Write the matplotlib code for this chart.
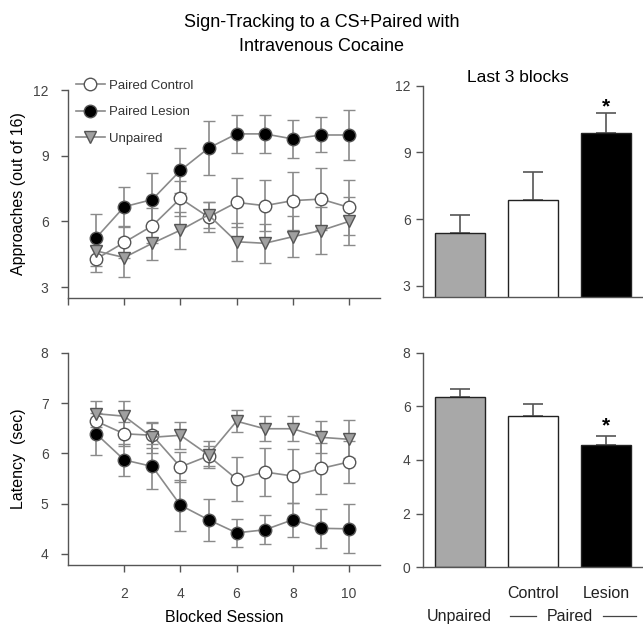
import matplotlib.pyplot as plt
import numpy as np

plt.rcParams['font.family'] = ['Liberation Sans', 'DejaVu Sans']

sessions = np.arange(1, 11)

# approaches (out of 16)
appr_lesion = [5.25, 6.67, 7.0, 8.33, 9.35, 10.0, 10.0, 9.77, 9.95, 9.95]
appr_lesion_err = [1.1, 0.88, 1.22, 1.03, 1.23, 0.88, 0.88, 0.88, 0.8, 1.15]
appr_control = [4.28, 5.04, 5.8, 7.05, 6.2, 6.87, 6.72, 6.95, 7.02, 6.64]
appr_control_err = [0.6, 0.72, 0.8, 0.8, 0.7, 1.12, 1.17, 1.32, 1.4, 1.25]
appr_unpaired = [4.65, 4.35, 5.0, 5.6, 6.3, 5.07, 5.0, 5.3, 5.58, 6.0]
appr_unpaired_err = [0.7, 0.9, 0.77, 0.84, 0.6, 0.88, 0.9, 0.94, 1.08, 1.1]

# latency (sec)
lat_lesion = [6.39, 5.87, 5.74, 4.97, 4.68, 4.42, 4.48, 4.68, 4.51, 4.50]
lat_lesion_err = [0.42, 0.31, 0.44, 0.51, 0.42, 0.28, 0.29, 0.34, 0.39, 0.49]
lat_control = [6.64, 6.39, 6.36, 5.73, 5.95, 5.49, 5.63, 5.55, 5.70, 5.83]
lat_control_err = [0.25, 0.24, 0.25, 0.3, 0.2, 0.43, 0.47, 0.53, 0.5, 0.42]
lat_unpaired = [6.79, 6.74, 6.32, 6.36, 5.97, 6.64, 6.49, 6.49, 6.32, 6.28]
lat_unpaired_err = [0.26, 0.31, 0.31, 0.27, 0.27, 0.22, 0.25, 0.25, 0.32, 0.38]

# last 3 blocks: unpaired, paired control, paired lesion
groups = ['Unpaired', 'Control', 'Lesion']
bar_appr = [5.35, 6.85, 9.88]
bar_appr_err = [0.85, 1.25, 0.9]
bar_lat = [6.37, 5.65, 4.57]
bar_lat_err = [0.3, 0.45, 0.33]
bar_colors = ['#a8a8a8', 'white', 'black']

line_col = '#8a8a8a'
axis_col = '#555555'
tick_col = '#444444'

fig = plt.figure(figsize=(6.43, 6.26), dpi=100)
ax1 = fig.add_axes([0.1058, 0.524, 0.485, 0.332])
ax2 = fig.add_axes([0.1058, 0.0974, 0.485, 0.339])
ax3 = fig.add_axes([0.658, 0.526, 0.342, 0.337])
ax4 = fig.add_axes([0.658, 0.0942, 0.342, 0.342])


def style(ax, ypad):
    for s in ['top', 'right']:
        ax.spines[s].set_visible(False)
    for s in ['left', 'bottom']:
        ax.spines[s].set_color(axis_col)
        ax.spines[s].set_linewidth(1.0)
    ax.tick_params(direction='out', length=5, width=1.0, color=axis_col,
                   labelcolor=tick_col, labelsize=10)
    ax.tick_params(axis='y', pad=ypad)


def lines(ax, data):
    handles = []
    for y, e, mfc, mk, lab in data:
        c = ax.errorbar(sessions, y, yerr=e, color=line_col, ecolor=line_col,
                        elinewidth=1.2, capsize=4, capthick=1.2, lw=1.2,
                        marker=mk, ms=9, mfc=mfc, mec='#555555', mew=1.0,
                        label=lab, zorder=3)
        handles.append(c[0])
    return handles


h = lines(ax1, [
    (appr_control, appr_control_err, 'white', 'o', 'Paired Control'),
    (appr_lesion, appr_lesion_err, 'black', 'o', 'Paired Lesion'),
    (appr_unpaired, appr_unpaired_err, '#a0a0a0', 'v', 'Unpaired'),
])
style(ax1, 9)
ax1.set_xlim(0, 11.1)
ax1.set_ylim(2.5, 12)
ax1.set_yticks([3, 6, 9, 12])
ax1.set_xticks([0, 2, 4, 6, 8, 10])
ax1.set_xticklabels([])
ax1.set_ylabel('Approaches (out of 16)', fontsize=11.5)
ax1.yaxis.set_label_coords(-0.135, 0.5)
leg = ax1.legend(handles=h, labels=['Paired Control', 'Paired Lesion', 'Unpaired'],
                 loc='upper left', bbox_to_anchor=(0.0, 1.09), frameon=False,
                 fontsize=9.5, handlelength=2.2, handletextpad=0.3,
                 labelspacing=1.1, borderaxespad=0.2)
for t in leg.get_texts():
    t.set_color('#333333')

lines(ax2, [
    (lat_control, lat_control_err, 'white', 'o', 'Paired Control'),
    (lat_lesion, lat_lesion_err, 'black', 'o', 'Paired Lesion'),
    (lat_unpaired, lat_unpaired_err, '#a0a0a0', 'v', 'Unpaired'),
])
style(ax2, 9)
ax2.set_xlim(0, 11.1)
ax2.set_ylim(3.78, 8)
ax2.set_yticks([4, 5, 6, 7, 8])
ax2.set_xticks([2, 4, 6, 8, 10])
ax2.tick_params(axis='x', pad=11)
ax2.set_ylabel('Latency  (sec)', fontsize=11.5)
ax2.yaxis.set_label_coords(-0.135, 0.5)
ax2.set_xlabel('Blocked Session', fontsize=11.5, labelpad=6)

xb = np.arange(3)
for ax, vals, errs in [(ax3, bar_appr, bar_appr_err), (ax4, bar_lat, bar_lat_err)]:
    ax.bar(xb, vals, width=0.68, color=bar_colors, edgecolor='#222222',
           linewidth=1.0, zorder=2)
    ax.errorbar(xb, vals, yerr=[np.zeros(3), errs], fmt='none',
                ecolor='#555555', elinewidth=1.2, capsize=7.5, capthick=1.2,
                zorder=1)
    style(ax, 4)
    ax.set_xlim(-0.5, 2.5)
    ax.tick_params(axis='x', length=0)

ax3.set_ylim(2.5, 12)
ax3.set_yticks([3, 6, 9, 12])
ax3.set_xticks([])
ax3.text(0.43, 1.04, 'Last 3 blocks', transform=ax3.transAxes, ha='center',
         va='center', fontsize=12.5)
ax3.text(2, bar_appr[2] + bar_appr_err[2] - 0.15, '*', ha='center',
         va='bottom', fontsize=15, fontweight='bold')

ax4.set_ylim(0, 8)
ax4.set_yticks([0, 2, 4, 6, 8])
ax4.set_xticks(xb)
ax4.set_xticklabels(['', groups[1], groups[2]], fontsize=11.5, color='#222222')
ax4.tick_params(axis='x', pad=14)
ax4.text(2, bar_lat[2] + bar_lat_err[2] + 0.02, '*', ha='center',
         va='bottom', fontsize=15, fontweight='bold')

tr = ax4.get_xaxis_transform()
ax4.text(0, -0.23, groups[0], transform=tr, ha='center', va='center',
         fontsize=11.5, color='#222222')
ax4.text(1.5, -0.23, 'Paired', transform=tr, ha='center', va='center',
         fontsize=11.5, color='#222222')
ax4.plot([0.68, 1.04], [-0.23, -0.23], transform=tr, color='#444444',
         lw=0.9, clip_on=False)
ax4.plot([1.96, 2.4], [-0.23, -0.23], transform=tr, color='#444444',
         lw=0.9, clip_on=False)

fig.text(0.5, 0.964, 'Sign-Tracking to a CS+Paired with', ha='center',
         va='center', fontsize=13)
fig.text(0.5, 0.926, 'Intravenous Cocaine', ha='center', va='center',
         fontsize=13)

fig.savefig('out.png', dpi=100)
